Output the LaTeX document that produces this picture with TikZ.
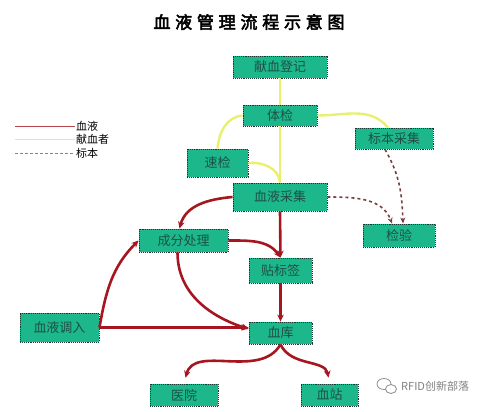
\documentclass[tikz,border=0pt]{standalone}
\usepackage{fontspec}
\newfontfamily\cjk{Noto Sans CJK SC}
\newfontfamily\titlefont[LetterSpace=28,FakeBold=3]{Noto Sans CJK SC}
\usetikzlibrary{arrows.meta,positioning,calc}
\definecolor{boxgreen}{RGB}{28,184,140}
\definecolor{boxtext}{RGB}{30,80,70}
\definecolor{bloodred}{RGB}{165,22,32}
\definecolor{donoryellow}{RGB}{232,240,110}
\definecolor{samplebrown}{RGB}{125,60,60}
\tikzset{
  stn/.style={draw=boxtext!70!black, densely dotted, line width=0.9pt, fill=boxgreen, text=boxtext,
    font=\cjk\fontsize{13}{13}\selectfont, inner sep=0pt},
  blood/.style={-{Stealth[length=7pt,width=6.5pt]}, draw=bloodred, line width=2.6pt},
  donor/.style={draw=donoryellow, line width=2.4pt},
  sample/.style={-{Stealth[length=6pt,width=5pt]}, draw=samplebrown, line width=1.6pt, dashed},
  key/.style={font=\cjk\fontsize{11}{11}\selectfont, anchor=west, inner sep=1pt}}

\begin{document}
\begin{tikzpicture}[x=1pt, y=-1pt]
  \useasboundingbox (0,0) rectangle (477,412);
  \node[font=\titlefont\fontsize{17}{17}\selectfont] (title) at (249,22) {血液管理流程示意图};

  % stations
  \node[stn, minimum width=94pt, minimum height=22pt] (djdj) at (280,67) {献血登记};
  \node[stn, minimum width=74pt, minimum height=21pt] (tj) at (280,115.5) {体检};
  \node[stn, minimum width=78pt, minimum height=21pt] (bbcj) at (394,138.5) {标本采集};
  \node[stn, minimum width=61pt, minimum height=28pt] (sj) at (217.5,163) {速检};
  \node[stn, minimum width=94pt, minimum height=28pt] (xycj) at (280,197) {血液采集};
  \node[stn, minimum width=72pt, minimum height=23pt] (jy) at (399,235.5) {检验};
  \node[stn, minimum width=89pt, minimum height=23pt] (cfcl) at (183.5,240.5) {成分处理};
  \node[stn, minimum width=63pt, minimum height=25pt] (tbq) at (280.5,270.5) {贴标签};
  \node[stn, minimum width=79pt, minimum height=29pt] (xydr) at (59.5,327.5) {血液调入};
  \node[stn, minimum width=63pt, minimum height=22pt] (xk) at (280.5,333) {血库};
  \node[stn, minimum width=68pt, minimum height=22pt] (yy) at (184,395) {医院};
  \node[stn, minimum width=57pt, minimum height=22pt] (xz) at (329.5,395) {血站};

  % donor path
  \draw[donor] (djdj.south) -- (tj.north);
  \draw[donor] (tj.west) to[out=185, in=85] (sj.north);
  \draw[donor] (tj.south) -- (xycj.north);
  \draw[donor] (sj.east) to[out=5, in=95] (xycj.north);
  \draw[donor] (tj.east) to[out=0, in=130] ([xshift=-6pt]bbcj.north);

  % sample path
  \draw[sample] (xycj.east) to[out=0, in=110] ([xshift=-7pt]jy.north);
  \draw[sample] ([xshift=-9pt]bbcj.south) to[out=-60, in=92] ([xshift=4pt]jy.north);

  % blood path
  \draw[blood] (xycj.west) to[out=185, in=75] ([xshift=-4pt]cfcl.north);
  \draw[blood] (xycj.south) -- (tbq.north);
  \draw[blood] (cfcl.east) to[out=0, in=125] (tbq.north);
  \draw[blood] ([xshift=-6pt]cfcl.south) to[out=-90, in=162] ([yshift=4pt]xk.west);
  \draw[blood] (xydr.east) to[out=80, in=225] (cfcl.west);
  \draw[blood] (xydr.east) -- (xydr.east -| xk.west);
  \draw[blood] (tbq.south) -- (xk.north);
  \draw[blood, shorten >=6pt] (xk.south) to[out=-120, in=75] (yy.north);
  \draw[blood, shorten >=6pt] (xk.south) to[out=-65, in=100] (xz.north);

  % legend
  \node[key] (kblood) at (75,126) {血液};
  \node[key] (kdonor) at (75,139) {献血者};
  \node[key] (ksample) at (75,153) {标本};
  \coordinate (lblood) at (15,126);
  \coordinate (ldonor) at (15,139);
  \coordinate (lsample) at (15,153);
  \draw[bloodred!80, line width=1pt] (lblood) -- (kblood.west);
  \draw[donoryellow, line width=1pt] (ldonor) -- (kdonor.west);
  \draw[samplebrown!70, line width=0.6pt, densely dashed] (lsample) -- (ksample.west);

  % mark
  \node[font=\cjk\fontsize{11}{11}\selectfont, text=black!50, anchor=west, inner sep=0pt] (mark) at (401,386) {RFID创新部落};
  \draw[black!45, line width=0.8pt] (384,384) ellipse (7 and 5.5);
  \draw[black!45, line width=0.8pt, fill=white] (391,389) ellipse (5.5 and 4.5);
\end{tikzpicture}
\end{document}
